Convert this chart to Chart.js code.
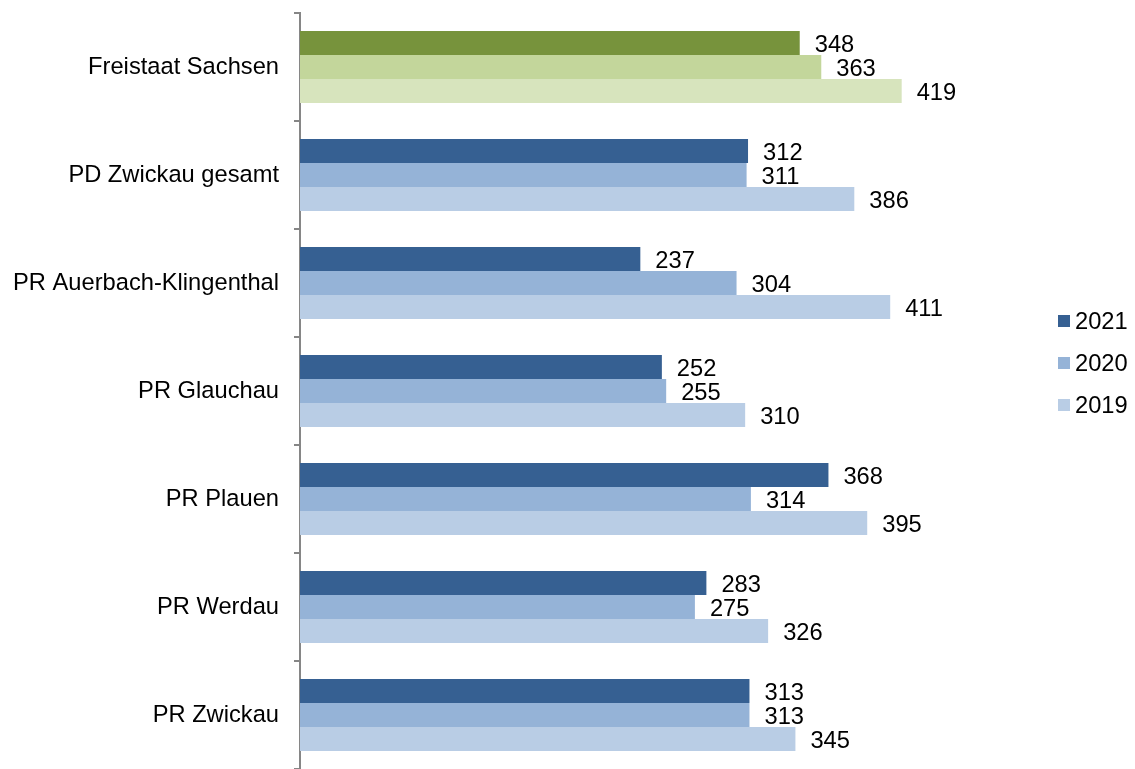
<!DOCTYPE html>
<html>
<head>
<meta charset="utf-8">
<script src="https://cdn.jsdelivr.net/npm/chart.js@4.4.1/dist/chart.umd.min.js"></script>
<style>
  html, body { margin: 0; padding: 0; background: #fff; }
  #wrap { width: 1135px; height: 769px; position: relative; }
</style>
</head>
<body>
<div id="wrap"><canvas id="graphique"></canvas></div>
<script>
var regionen = ['Freistaat Sachsen', 'PD Zwickau gesamt', 'PR Auerbach-Klingenthal', 'PR Glauchau', 'PR Plauen', 'PR Werdau', 'PR Zwickau'];
var jahre = ['2021', '2020', '2019'];
var werte2021 = [348, 312, 237, 252, 368, 283, 313];
var werte2020 = [363, 311, 304, 255, 314, 275, 313];
var werte2019 = [419, 386, 411, 310, 395, 326, 345];

var blau = ['#366092', '#95B3D7', '#B9CDE5'];
var gruen = ['#77933C', '#C3D69B', '#D7E4BD'];
var schrift = '"Liberation Sans", Arial, sans-serif';
var groesse = 23.7;

function farben(i) {
  return regionen.map(function(r, k) { return k === 0 ? gruen[i] : blau[i]; });
}

// Werte rechts neben den Balken
var werteLabels = {
  id: 'werteLabels',
  afterDatasetsDraw: function(chart) {
    var ctx = chart.ctx;
    ctx.save();
    ctx.font = groesse + 'px ' + schrift;
    ctx.fillStyle = '#000';
    ctx.textAlign = 'left';
    ctx.textBaseline = 'middle';
    chart.data.datasets.forEach(function(ds, i) {
      chart.getDatasetMeta(i).data.forEach(function(bar, k) {
        ctx.fillText(ds.data[k], bar.x + 15, bar.y + 2);
      });
    });
    ctx.restore();
  }
};

// Legende rechts
var legende = {
  id: 'legende',
  afterDraw: function(chart) {
    var ctx = chart.ctx;
    ctx.save();
    ctx.font = groesse + 'px ' + schrift;
    ctx.textBaseline = 'middle';
    chart.data.datasets.forEach(function(ds, i) {
      var y = 321 + i * 42;
      ctx.fillStyle = blau[i];
      ctx.fillRect(1058, y - 6, 12, 12);
      ctx.fillStyle = '#000';
      ctx.fillText(ds.label, 1075, y + 1);
    });
    ctx.restore();
  }
};

var chartdata = {
  labels: regionen,
  datasets: [
    { label: jahre[0], data: werte2021, backgroundColor: farben(0) },
    { label: jahre[1], data: werte2020, backgroundColor: farben(1) },
    { label: jahre[2], data: werte2019, backgroundColor: farben(2) }
  ]
};

var ctx = document.getElementById('graphique');

var barGraph = new Chart(ctx, {
  type: 'bar',
  data: chartdata,
  plugins: [werteLabels, legende],
  options: {
    indexAxis: 'y',
    responsive: true,
    maintainAspectRatio: false,
    animation: false,
    layout: { padding: { top: 13, right: 117, bottom: 0, left: 0 } },
    datasets: { bar: { barPercentage: 1, categoryPercentage: 0.667 } },
    plugins: { legend: { display: false }, tooltip: { enabled: false } },
    scales: {
      x: { display: false, min: 0, max: 500 },
      y: {
        afterFit: function(s) { s.width = 300; s.paddingTop = 0; s.paddingBottom = 0; },
        border: { display: true, color: '#868686', width: 2 },
        grid: { display: true, drawOnChartArea: false, offset: true, tickLength: 6, color: '#868686', lineWidth: 2 },
        ticks: { color: '#000', padding: 15, font: { family: schrift, size: groesse } }
      }
    }
  }
});
</script>
</body>
</html>
